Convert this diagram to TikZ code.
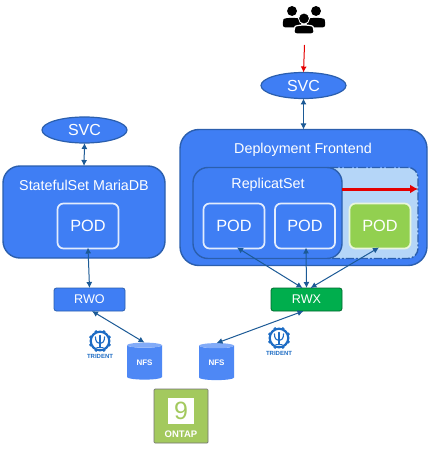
\documentclass[tikz,border=0pt]{standalone}
\usepackage{fontspec}
\setmainfont{Liberation Sans}
\usetikzlibrary{shapes.geometric,arrows.meta}
\definecolor{kblue}{HTML}{3F7EF4}
\definecolor{kedge}{HTML}{2B5FAE}
\definecolor{karrow}{HTML}{1C5A96}
\definecolor{klight}{HTML}{B5D6F8}
\definecolor{kgreen}{HTML}{92D050}
\definecolor{krwx}{HTML}{00AE4D}
\definecolor{kontap}{HTML}{A3C95E}
\definecolor{ktri}{HTML}{1D6CC4}
\tikzset{
  x=1pt,y=-1pt,
  every node/.style={inner sep=0pt,outer sep=0pt,text=white},
  panel/.style={draw=kedge,line width=1.4pt,fill=kblue,rounded corners=17pt,anchor=north west},
  svcnode/.style={ellipse,draw=kedge,line width=1.2pt,fill=kblue,minimum width=85pt,minimum height=26pt,font=\fontsize{16}{18}\selectfont},
  podnode/.style={draw=white!85!kblue,line width=1.7pt,fill=kblue,rounded corners=6pt,minimum width=61pt,minimum height=45pt,font=\fontsize{16.3}{18}\selectfont},
  title/.style={font=\fontsize{14.3}{16}\selectfont},
  volnode/.style={draw=kedge,line width=0.8pt,rounded corners=2.5pt,minimum width=71pt,minimum height=23pt,font=\fontsize{12.6}{14}\selectfont},
  nfsnode/.style={cylinder,shape border rotate=90,aspect=0.32,cylinder uses custom fill,cylinder body fill=kblue!92!white,cylinder end fill=kblue!65!white,minimum width=35pt,minimum height=37pt,font=\bfseries\fontsize{8}{9}\selectfont},
  link/.style={draw=karrow,line width=1pt,{Latex[length=6pt,width=6pt]}-{Latex[length=6pt,width=6pt]}},
  redlink/.style={draw=red!90!black,line width=1pt,-{Latex[length=6pt,width=6pt]}},
  scalelink/.style={draw=red!90!black,line width=3pt,-{Latex[length=8pt,width=9pt]}},
  tribadge/.style={text=ktri,font=\bfseries\fontsize{6}{6}\selectfont},
}
\newcommand{\tridentmark}[1]{%
  \begin{scope}[shift={#1}]
    \foreach \a in {22.5,67.5,...,360}{\fill[ktri] (\a:10) circle (1.7pt);}
    \draw[ktri,line width=2.2pt,fill=white] (0,0) circle (9.3pt);
    \draw[ktri,line width=1.1pt,line cap=round] (0,-5.6) -- (0,6.8) (-3,6.8) -- (3,6.8);
    \draw[ktri,line width=1.1pt,line cap=round] (-4.6,-4.2) .. controls (-4.6,1) and (-2,2.6) .. (0,2.6) .. controls (2,2.6) and (4.6,1) .. (4.6,-4.2);
  \end{scope}}
\newcommand{\person}[3]{%
  \fill[black] (#1,#2) circle (#3*0.62pt);
  \fill[black,rounded corners=2.5pt] (#1-#3*1.15,#2+#3*2.05) -- (#1-#3*1.15,#2+#3*1.35) .. controls (#1-#3*1.0,#2+#3*0.8) and (#1+#3*1.0,#2+#3*0.8) .. (#1+#3*1.15,#2+#3*1.35) -- (#1+#3*1.15,#2+#3*2.05) -- cycle;}
\begin{document}
\begin{tikzpicture}
\useasboundingbox (0,0) rectangle (431,457);
\fill[white] (0,0) rectangle (431,457);

% users icon
\person{292}{11}{8}
\person{316}{11}{8}
\draw[white,line width=1.2pt,fill=black,rounded corners=2.5pt] (294,34) -- (294,29) .. controls (296,24.5) and (312,24.5) .. (314,29) -- (314,34) -- cycle;
\draw[white,line width=0.8pt,fill=black] (304,18.5) circle (5.5pt);
\coordinate (users) at (304.5,45);

% services
\node[svcnode] (svcl) at (84.5,130) {SVC};
\node[svcnode] (svcr) at (303.5,85.5) {SVC};

% StatefulSet
\node[panel,minimum width=162pt,minimum height=92pt] (sts) at (3,166) {};
\node[title] (ststitle) at (84,185) {StatefulSet MariaDB};
\node[podnode] (podl) at (88,226) {POD};

% Deployment
\node[panel,rounded corners=19pt,minimum width=247pt,minimum height=136pt] (dep) at (180,129.5) {};
\node[title] (deptitle) at (303,150) {Deployment Frontend};
\node[draw=kedge,line width=1.4pt,dash pattern=on 8pt off 2pt on 2pt off 2pt,fill=klight,rounded corners=10pt,anchor=north west,minimum width=98pt,minimum height=91pt] (scale) at (320,167.5) {};
\node[panel,rounded corners=15pt,minimum width=149pt,minimum height=91pt] (rs) at (193,167.5) {};
\node[title] (rstitle) at (268,185) {ReplicatSet};
\node[podnode] (pod1) at (234,226) {POD};
\node[podnode,minimum width=60pt] (pod2) at (305,226) {POD};
\node[podnode,fill=kgreen,draw=white!80!kgreen] (pod3) at (380,226) {POD};

% volumes
\node[volnode,fill=kblue] (rwo) at (89.5,299.5) {RWO};
\node[volnode,fill=krwx,draw=krwx!60!black] (rwx) at (306.5,299.5) {RWX};

% NFS
\node[nfsnode] (nfsl) at (144.5,362.5) {NFS};
\node[nfsnode] (nfsr) at (216.5,363) {NFS};

% ONTAP
\node[draw=black!55,line width=0.7pt,fill=kontap,rounded corners=1pt,minimum width=54pt,minimum height=54pt] (ontap) at (181,416) {};
\node[fill=white,minimum width=26pt,minimum height=26pt,text=kontap,font=\fontsize{25}{26}\selectfont] (nine) at (181,411) {9};
\node[font=\bfseries\fontsize{9.5}{10}\selectfont] (ontaplabel) at (181,434) {ONTAP};

% Trident badges
\tridentmark{(100,341)}
\node[tribadge] (tril) at (100,356) {TRIDENT};
\tridentmark{(279,338)}
\node[tribadge] (trir) at (279,353) {TRIDENT};

% connectors
\draw[redlink] (users) -- (svcr.north);
\draw[link] (svcr.south) -- (dep.north);
\draw[link] (svcl.south) -- (sts.north);
\draw[link] ([yshift=1pt]podl.south) -- (rwo.north);
\draw[link] ([xshift=3pt,yshift=1pt]pod1.south) -- ([xshift=-4pt]rwx.north);
\draw[link] ([xshift=1pt,yshift=1pt]pod2.south) -- (rwx.north);
\draw[link] ([xshift=-1pt,yshift=1pt]pod3.south) -- ([xshift=4pt]rwx.north);
\draw[scalelink] (rs.east |- 0,189) -- (scale.east |- 0,189);
\draw[link] ([xshift=2.5pt]rwo.south) -- (nfsl.north);
\draw[link] ([xshift=-3pt]rwx.south) -- (nfsr.north);
\end{tikzpicture}
\end{document}
